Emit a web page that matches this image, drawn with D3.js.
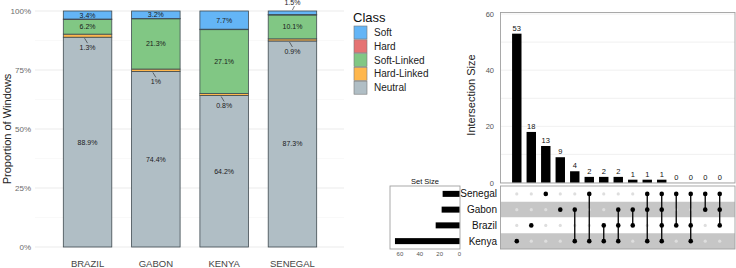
<!DOCTYPE html>
<html>
<head>
<meta charset="utf-8">
<script src="https://cdn.jsdelivr.net/npm/d3@7"></script>
<style>
  body { margin: 0; background: #fff; }
  svg { font-family: "Liberation Sans", Arial, sans-serif; display: block; }
</style>
</head>
<body>
<svg id="chart" width="736" height="268"></svg>
<script>
// ---- stacked proportions (percent) ----
var countries = ["BRAZIL", "GABON", "KENYA", "SENEGAL"];
var neutral    = [88.9, 74.4, 64.2, 87.3];
var hardLinked = [1.3, 1.0, 0.8, 0.9];
var softLinked = [6.2, 21.3, 27.1, 10.1];
var hard       = [0.2, 0.1, 0.2, 0.2];
var soft       = [3.4, 3.2, 7.7, 1.5];
var yTicks = [0, 25, 50, 75, 100];

// ---- upset data ----
var setNames = ["Senegal", "Gabon", "Brazil", "Kenya"];
var intersections = [
  ["Kenya"], ["Brazil"], ["Senegal"], ["Gabon"],
  ["Gabon", "Kenya"], ["Senegal", "Kenya"], ["Brazil", "Kenya"],
  ["Gabon", "Brazil", "Kenya"], ["Gabon", "Brazil"],
  ["Senegal", "Gabon", "Kenya"], ["Senegal", "Gabon", "Brazil", "Kenya"],
  ["Senegal", "Brazil"], ["Senegal", "Brazil", "Kenya"],
  ["Senegal", "Gabon"], ["Senegal", "Gabon", "Brazil"]
];
var intersectionSizes = [53, 18, 13, 9, 4, 2, 2, 2, 1, 1, 1, 0, 0, 0, 0];
var sizeTicks = [0, 20, 40, 60];
var setSizeTicks = [0, 20, 40, 60];

var classes = ["Neutral", "Hard-Linked", "Soft-Linked", "Hard", "Soft"];
var legendOrder = ["Soft", "Hard", "Soft-Linked", "Hard-Linked", "Neutral"];
var classColor = {
  "Soft": "#64B5F6",
  "Hard": "#E57373",
  "Soft-Linked": "#81C784",
  "Hard-Linked": "#FFB74D",
  "Neutral": "#B0BEC5"
};

var svg = d3.select("#chart");

// ================= left: stacked bars =================
var rows = countries.map(function(c, i) {
  return { country: c, "Neutral": neutral[i], "Hard-Linked": hardLinked[i],
           "Soft-Linked": softLinked[i], "Hard": hard[i], "Soft": soft[i] };
});

var x = d3.scaleBand().domain(countries).range([43.5, 336.5]).padding(0.29);
var y = d3.scaleLinear().domain([0, 100]).range([247, 11]);

var left = svg.append("g");

// grid
left.append("g").selectAll("line")
  .data(d3.range(0, 101, 12.5))
  .enter().append("line")
  .attr("x1", 35).attr("x2", 344)
  .attr("y1", function(d) { return y(d); })
  .attr("y2", function(d) { return y(d); })
  .attr("stroke", function(d) { return d % 25 === 0 ? "#e6e6e6" : "#f2f2f2"; })
  .attr("stroke-width", function(d) { return d % 25 === 0 ? 0.8 : 0.5; });

left.append("g").selectAll("text")
  .data(yTicks)
  .enter().append("text")
  .attr("x", 31).attr("y", function(d) { return y(d) + 3; })
  .attr("text-anchor", "end")
  .attr("font-size", 8).attr("fill", "#6b6b6b")
  .text(function(d) { return d + "%"; });

left.append("text")
  .attr("transform", "translate(11," + y(50) + ") rotate(-90)")
  .attr("text-anchor", "middle")
  .attr("font-size", 11).attr("fill", "#222")
  .text("Proportion of Windows");

var stack = d3.stack().keys(classes)(rows);

left.append("g").selectAll("g")
  .data(stack)
  .enter().append("g")
  .attr("fill", function(d) { return classColor[d.key]; })
  .selectAll("rect")
  .data(function(d) { return d; })
  .enter().append("rect")
  .attr("x", function(d) { return x(d.data.country); })
  .attr("width", x.bandwidth())
  .attr("y", function(d) { return y(d[1]); })
  .attr("height", function(d) { return y(d[0]) - y(d[1]); })
  .attr("stroke", "#3f4a50")
  .attr("stroke-width", 0.8);

// percent labels
var labels = left.append("g").attr("font-size", 7).attr("fill", "#1a1a1a")
  .attr("text-anchor", "middle");
stack.forEach(function(layer) {
  if (layer.key === "Hard") return;
  layer.forEach(function(d) {
    var v = d[1] - d[0];
    var cx = x(d.data.country) + x.bandwidth() / 2;
    var txt = (Math.round(v * 10) / 10) + "%";
    if (layer.key === "Hard-Linked") {
      var yb = y(d[0]);
      labels.append("line")
        .attr("x1", cx - 3).attr("y1", yb + 1)
        .attr("x2", cx).attr("y2", yb + 6)
        .attr("stroke", "#222").attr("stroke-width", 0.6);
      labels.append("text").attr("x", cx).attr("y", yb + 13).text(txt);
    } else if (v < 2) {
      var yt = y(d[1]);
      labels.append("line")
        .attr("x1", cx).attr("y1", yt - 1)
        .attr("x2", cx + 2).attr("y2", yt - 5)
        .attr("stroke", "#222").attr("stroke-width", 0.6);
      labels.append("text").attr("x", cx).attr("y", yt - 6).text(txt);
    } else {
      labels.append("text").attr("x", cx)
        .attr("y", (y(d[0]) + y(d[1])) / 2 + 2.5).text(txt);
    }
  });
});

left.append("g").selectAll("text")
  .data(countries)
  .enter().append("text")
  .attr("x", function(d) { return x(d) + x.bandwidth() / 2; })
  .attr("y", 267)
  .attr("text-anchor", "middle")
  .attr("font-size", 9.5).attr("fill", "#444")
  .text(function(d) { return d; });

// legend
var legend = svg.append("g").attr("transform", "translate(353,0)");
legend.append("text").attr("x", 0).attr("y", 22)
  .attr("font-size", 13).attr("fill", "#111").text("Class");
var li = legend.selectAll("g.item")
  .data(legendOrder)
  .enter().append("g")
  .attr("class", "item")
  .attr("transform", function(d, i) { return "translate(0," + (26 + i * 13.8) + ")"; });
li.append("rect")
  .attr("x", 1).attr("y", 0).attr("width", 13).attr("height", 13)
  .attr("fill", function(d) { return classColor[d]; })
  .attr("stroke", "#777").attr("stroke-width", 0.6);
li.append("text").attr("x", 21).attr("y", 10)
  .attr("font-size", 10).attr("fill", "#222")
  .text(function(d) { return d; });

// ================= right: upset plot =================
var setSizes = setNames.map(function(s) {
  var total = 0;
  intersections.forEach(function(combo, i) {
    if (combo.indexOf(s) >= 0) total += intersectionSizes[i];
  });
  return total;
});

var ux = d3.scaleBand().domain(d3.range(intersections.length))
  .range([507, 729.5]).padding(0.35);
var uy = d3.scaleLinear().domain([0, 60]).range([182.5, 14]);
var rowY = d3.scaleBand().domain(setNames).range([186, 249]);
var sx = d3.scaleLinear().domain([0, 70]).range([459.5, 390]);

var up = svg.append("g");

// main bar panel
up.append("g").selectAll("line")
  .data(d3.range(0, 61, 10))
  .enter().append("line")
  .attr("x1", 501).attr("x2", 735)
  .attr("y1", function(d) { return uy(d); })
  .attr("y2", function(d) { return uy(d); })
  .attr("stroke", "#ececec").attr("stroke-width", 0.8);

up.append("rect")
  .attr("x", 500.5).attr("y", 12.5).attr("width", 234.5).attr("height", 170.5)
  .attr("fill", "none").attr("stroke", "#a0a0a0").attr("stroke-width", 0.9);

up.append("g").selectAll("text")
  .data(sizeTicks)
  .enter().append("text")
  .attr("x", 494).attr("y", function(d) { return uy(d) + 3; })
  .attr("text-anchor", "end")
  .attr("font-size", 7.5).attr("fill", "#555")
  .text(function(d) { return d; });

up.append("text")
  .attr("transform", "translate(475,95) rotate(-90)")
  .attr("text-anchor", "middle")
  .attr("font-size", 11).attr("fill", "#222")
  .text("Intersection Size");

up.append("g").selectAll("rect")
  .data(intersectionSizes)
  .enter().append("rect")
  .attr("x", function(d, i) { return ux(i); })
  .attr("width", ux.bandwidth())
  .attr("y", function(d) { return uy(d); })
  .attr("height", function(d) { return uy(0) - uy(d); })
  .attr("fill", "#000");

up.append("g").selectAll("text")
  .data(intersectionSizes)
  .enter().append("text")
  .attr("x", function(d, i) { return ux(i) + ux.bandwidth() / 2; })
  .attr("y", function(d) { return uy(d) - 3; })
  .attr("text-anchor", "middle")
  .attr("font-size", 7.5).attr("fill", "#111")
  .text(function(d) { return d; });

// matrix
up.append("g").selectAll("rect")
  .data(setNames)
  .enter().append("rect")
  .attr("x", 500.5).attr("width", 234.5)
  .attr("y", function(d) { return rowY(d); })
  .attr("height", rowY.bandwidth())
  .attr("fill", function(d, i) { return i % 2 ? "#c6c6c6" : "#fff"; });

up.append("rect")
  .attr("x", 500.5).attr("y", 186).attr("width", 234.5).attr("height", 63)
  .attr("fill", "none").attr("stroke", "#a0a0a0").attr("stroke-width", 0.9);

var cols = up.append("g").selectAll("g")
  .data(intersections)
  .enter().append("g")
  .attr("transform", function(d, i) {
    return "translate(" + (ux(i) + ux.bandwidth() / 2) + ",0)";
  });

setNames.forEach(function(s) {
  cols.append("circle")
    .attr("cy", rowY(s) + rowY.bandwidth() / 2)
    .attr("r", function(d) { return d.indexOf(s) >= 0 ? 2.3 : 1.6; })
    .attr("fill", function(d) { return d.indexOf(s) >= 0 ? "#000" : "#dedede"; });
});

cols.filter(function(d) { return d.length > 1; })
  .append("line")
  .attr("y1", function(d) {
    return d3.min(d, function(s) { return rowY(s); }) + rowY.bandwidth() / 2;
  })
  .attr("y2", function(d) {
    return d3.max(d, function(s) { return rowY(s); }) + rowY.bandwidth() / 2;
  })
  .attr("stroke", "#000").attr("stroke-width", 1.3);

up.append("g").selectAll("text")
  .data(setNames)
  .enter().append("text")
  .attr("x", 497)
  .attr("y", function(d) { return rowY(d) + rowY.bandwidth() / 2 + 3.5; })
  .attr("text-anchor", "end")
  .attr("font-size", 10).attr("fill", "#111")
  .text(function(d) { return d; });

// set size panel
up.append("rect")
  .attr("x", 390).attr("y", 186).attr("width", 70).attr("height", 63)
  .attr("fill", "none").attr("stroke", "#a0a0a0").attr("stroke-width", 0.9);

up.append("text")
  .attr("x", 425).attr("y", 184)
  .attr("text-anchor", "middle")
  .attr("font-size", 7.5).attr("fill", "#111")
  .text("Set Size");

up.append("g").selectAll("rect")
  .data(setSizes)
  .enter().append("rect")
  .attr("x", function(d) { return sx(d); })
  .attr("width", function(d) { return sx(0) - sx(d); })
  .attr("y", function(d, i) { return rowY(setNames[i]) + rowY.bandwidth() / 2 - 3; })
  .attr("height", 6)
  .attr("fill", "#000");

up.append("g").selectAll("text")
  .data(setSizeTicks)
  .enter().append("text")
  .attr("x", function(d) { return sx(d); })
  .attr("y", 256)
  .attr("text-anchor", "middle")
  .attr("font-size", 6).attr("fill", "#555")
  .text(function(d) { return d; });
</script>
</body>
</html>
